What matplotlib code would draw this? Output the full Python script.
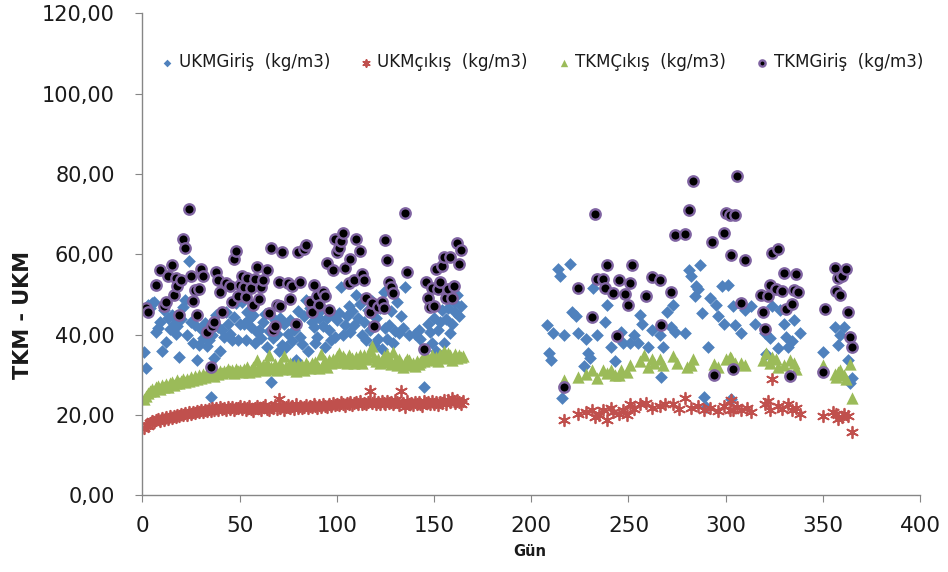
import matplotlib
matplotlib.use('Agg')
import matplotlib.pyplot as plt
from matplotlib.ticker import FuncFormatter

# UKM giriş (kg/m3)
ukm_giris_gun = [
    1, 2, 3, 4, 5, 6, 7, 8, 9, 10, 11, 12, 13, 14, 15, 16, 17, 18, 19, 20,
    21, 22, 23, 24, 25, 26, 27, 28, 29, 30, 31, 32, 33, 34, 35, 36, 37, 38, 39, 40,
    41, 42, 43, 44, 45, 46, 47, 48, 49, 50, 51, 52, 53, 54, 55, 56, 57, 58, 59, 60,
    61, 62, 63, 64, 65, 66, 67, 68, 69, 70, 71, 72, 73, 74, 75, 76, 77, 78, 79, 80,
    81, 82, 83, 84, 85, 86, 87, 88, 89, 90, 91, 92, 93, 94, 95, 96, 97, 98, 99, 100,
    101, 102, 103, 104, 105, 106, 107, 108, 109, 110, 111, 112, 113, 114, 115, 116,
    117, 118, 119, 120, 121, 122, 123, 124, 125, 126, 127, 128, 129, 130, 131, 132,
    133, 134, 135, 137, 140, 142, 143, 145, 147, 148, 149, 150, 151, 152, 153, 154,
    155, 156, 157, 158, 159, 160, 161, 162, 163, 164,
    208, 209, 210, 211, 214, 215, 216, 217, 220, 221, 223, 224, 227, 228, 229, 230,
    232, 234, 238, 239, 241, 243, 246, 247, 251, 253, 255, 256, 257, 260, 262, 266,
    267, 268, 270, 272, 273, 274, 279, 281, 282, 284, 285, 286, 287, 288, 289, 290,
    291, 292, 295, 296, 298, 299, 301, 303, 304, 305, 308, 310, 313, 315, 320, 321,
    323, 324, 327, 328, 330, 331, 332, 334, 335, 338, 350, 356, 358, 359, 361, 363,
    364, 365]
ukm_giris = [
    35.6, 31.7, 47.4, 46.5, 47.9, 48.2, 40.6, 41.5, 43.2, 36.0, 46.1, 38.1, 44.0, 41.4,
    44.8, 42.7, 40.2, 42.0, 34.5, 43.9, 46.9, 48.6, 39.8, 58.2, 43.2, 37.8, 42.3, 33.6,
    37.5, 41.4, 39.1, 42.8, 37.2, 38.6, 24.5, 39.9, 34.2, 44.9, 41.8, 36.0, 41.1, 39.5,
    45.5, 42.7, 40.2, 38.6, 44.4, 47.8, 38.6, 42.5, 48.2, 42.7, 38.6, 45.7, 43.8, 41.9,
    44.9, 37.8, 40.5, 41.1, 39.1, 43.0, 45.2, 37.0, 40.8, 28.1, 39.2, 43.5, 40.2, 35.8,
    44.1, 37.4, 42.7, 36.9, 40.2, 43.6, 38.3, 41.2, 33.6, 45.8, 39.5, 37.6, 44.5, 48.6,
    35.8, 46.6, 43.0, 41.9, 38.0, 39.5, 44.2, 46.1, 42.0, 37.0, 44.0, 41.1, 38.7, 45.0,
    39.5, 43.5, 45.3, 51.9, 39.8, 42.4, 44.7, 47.0, 40.5, 45.8, 42.4, 49.9, 44.0, 47.5,
    39.8, 43.2, 38.6, 46.1, 41.0, 48.3, 37.4, 44.2, 39.0, 46.5, 36.5, 50.7, 41.5, 38.9,
    42.4, 45.8, 37.8, 40.8, 48.0, 40.3, 44.6, 41.5, 51.9, 39.9, 40.2, 41.0, 38.8, 26.9,
    42.7, 40.5, 37.8, 44.0, 35.8, 41.0, 43.2, 46.0, 37.8, 43.8, 46.6, 40.3, 42.5, 48.2,
    45.6, 49.9, 44.5, 47.0,
    42.4, 35.3, 33.6, 40.3, 56.4, 54.5, 24.2, 39.9, 57.6, 45.7, 44.5, 40.3, 32.2, 39.0,
    35.3, 34.2, 51.5, 39.9, 43.2, 47.4, 37.0, 33.4, 40.7, 37.8, 37.8, 39.9, 37.8, 44.9,
    42.7, 37.0, 41.1, 39.9, 29.4, 37.0, 45.7, 41.9, 47.4, 40.7, 40.3, 56.2, 54.5, 49.6,
    52.0, 51.4, 57.4, 45.3, 24.4, 21.9, 37.0, 49.2, 47.4, 44.5, 52.0, 42.7, 52.4, 24.0,
    47.0, 42.4, 40.3, 46.1, 47.0, 42.7, 40.3, 35.2, 39.1, 47.0, 36.6, 46.1, 42.7, 39.5,
    37.0, 38.3, 43.7, 40.3, 35.6, 41.9, 37.4, 39.8, 41.9, 33.7, 27.9, 29.1]

# UKM çıkış (kg/m3)
ukm_cikis_gun = list(range(1, 166)) + [
    217, 224, 228, 231, 233, 235, 237, 239, 241, 242, 245, 247, 249, 251, 253, 256,
    259, 262, 266, 269, 273, 276, 279, 282, 286, 289, 292, 296, 299, 302, 303, 304,
    306, 308, 311, 313, 320, 322, 323, 324, 327, 329, 332, 334, 336, 338, 350, 355,
    357, 358, 360, 361, 363, 365]
ukm_cikis = [
    16.8, 17.5, 17.2, 18.0, 18.4, 18.1, 18.7, 19.0, 18.5, 19.2,
    18.8, 19.4, 19.0, 19.6, 19.2, 19.8, 19.5, 20.0, 19.7, 20.2,
    19.9, 20.4, 20.0, 20.6, 20.3, 20.8, 20.4, 21.0, 20.6, 21.1,
    20.8, 21.3, 20.9, 21.5, 21.0, 21.6, 21.2, 21.8, 21.3, 21.9,
    21.4, 21.7, 21.2, 21.9, 21.5, 22.0, 21.3, 21.8, 21.6, 22.1,
    21.4, 21.9, 21.2, 21.7, 22.2, 21.5, 21.0, 21.8, 22.3, 21.6,
    21.1, 21.9, 22.4, 21.5, 21.2, 22.0, 21.7, 22.5, 21.4, 24.0,
    21.8, 22.2, 21.3, 21.9, 22.4, 21.6, 22.1, 21.4, 22.6, 21.8,
    22.3, 21.7, 22.0, 22.5, 21.6, 22.2, 21.9, 22.7, 22.1, 21.8,
    22.4, 22.0, 22.8, 22.2, 21.9, 22.6, 22.3, 23.0, 22.5, 22.8,
    22.4, 23.1, 22.7, 22.2, 23.0, 22.6, 23.3, 22.5, 22.9, 23.2,
    22.7, 23.4, 22.8, 23.0, 22.6, 23.3, 25.8, 22.9, 23.5, 22.8,
    23.2, 22.6, 23.4, 23.0, 22.7, 23.5, 22.9, 23.3, 22.8, 23.6,
    23.1, 22.5, 25.9, 22.9, 22.0, 23.4, 22.6, 23.0, 22.4, 23.2,
    22.8, 23.3, 22.7, 22.3, 23.5, 22.9, 23.2, 22.6, 23.4, 22.8,
    23.1, 22.5, 23.3, 22.9, 23.6, 22.7, 23.8, 23.2, 24.2, 23.5,
    22.9, 23.6, 23.1, 22.8, 23.4,
    18.7, 20.2, 20.8, 21.1, 19.5, 20.0, 21.2, 18.6, 21.8, 20.6, 20.2, 21.1, 20.0, 22.7,
    21.4, 22.6, 23.0, 21.8, 22.2, 22.6, 22.6, 21.5, 24.3, 21.6, 22.3, 21.2, 21.8, 20.9,
    22.2, 21.3, 23.6, 21.1, 22.0, 21.1, 21.6, 20.8, 22.7, 23.5, 21.1, 28.9, 22.3, 21.5,
    22.7, 21.1, 21.8, 20.2, 19.6, 20.6, 20.2, 18.9, 19.5, 20.1, 19.8, 15.6]

# TKM çıkış (kg/m3)
tkm_cikis_gun = list(range(1, 166)) + [
    217, 224, 228, 231, 234, 237, 239, 241, 243, 245, 246, 249, 251, 256, 258, 260,
    262, 263, 266, 268, 273, 275, 280, 282, 283, 294, 296, 300, 302, 303, 305, 308,
    310, 319, 321, 323, 324, 326, 327, 330, 333, 335, 336, 350, 356, 357, 358, 359,
    361, 362, 364, 365]
tkm_cikis = [
    24.0, 24.6, 25.3, 25.8, 26.4, 26.0, 26.8, 27.1, 26.5, 27.3,
    27.0, 27.6, 26.9, 27.8, 28.2, 27.5, 28.0, 28.6, 27.9, 28.3,
    28.8, 28.1, 29.0, 28.5, 29.3, 28.7, 29.6, 29.0, 29.8, 29.2,
    30.1, 29.5, 30.3, 29.8, 30.6, 30.0, 29.7, 30.8, 30.2, 30.9,
    30.4, 31.0, 30.6, 31.3, 30.8, 31.1, 30.5, 31.4, 30.9, 31.2,
    30.7, 31.5, 30.9, 31.8, 30.6, 31.2, 32.0, 31.0, 33.6, 32.2,
    31.4, 32.5, 31.2, 33.0, 34.8, 32.0, 31.5, 32.6, 31.1, 31.9,
    32.8, 31.3, 34.6, 32.2, 31.6, 32.9, 31.4, 32.3, 31.0, 32.7,
    31.8, 32.5, 31.2, 33.0, 32.1, 31.6, 32.8, 31.9, 33.2, 32.4,
    31.7, 35.2, 32.6, 33.4, 32.0, 33.6, 32.8, 34.0, 33.1, 34.6,
    35.3, 33.2, 34.6, 33.8, 32.9, 34.9, 33.5, 34.1, 32.8, 34.4,
    33.6, 34.8, 33.0, 35.0, 33.9, 34.3, 36.0, 37.2, 34.5, 33.4,
    34.0, 32.9, 33.7, 34.6, 33.1, 35.2, 34.2, 32.6, 35.6, 33.5,
    32.4, 33.8, 32.8, 31.9, 33.2, 33.9, 33.6, 32.5, 33.0, 32.2,
    33.4, 32.6, 33.1, 34.0, 33.3, 35.0, 34.2, 33.6, 34.8, 33.9,
    34.3, 33.5, 35.2, 34.6, 36.0, 34.1, 35.4, 34.8, 33.7, 34.5,
    35.1, 34.2, 34.9, 34.3, 34.7,
    28.7, 29.4, 30.2, 31.1, 29.1, 31.1, 30.5, 31.2, 29.8, 30.0, 31.1, 30.6, 32.3, 33.5,
    35.0, 32.0, 33.8, 33.0, 33.8, 32.5, 34.6, 33.0, 31.9, 32.5, 33.8, 32.7, 31.8, 33.8,
    34.5, 34.1, 33.0, 32.8, 32.3, 33.6, 35.5, 33.0, 34.3, 33.8, 31.9, 32.3, 33.6, 32.8,
    31.5, 32.3, 30.2, 29.5, 30.6, 31.1, 29.8, 28.9, 32.7, 24.3]

# TKM giriş (kg/m3)
tkm_giris_gun = [
    2, 3, 7, 9, 11, 12, 13, 15, 16, 17, 18, 19, 20, 21, 22, 24, 25, 26, 27, 28,
    29, 30, 31, 33, 35, 36, 37, 38, 39, 40, 41, 43, 45, 46, 47, 48, 49, 50, 51, 52,
    53, 54, 56, 57, 58, 59, 60, 61, 62, 64, 65, 66, 67, 68, 69, 70, 71, 72, 75, 76,
    77, 79, 80, 81, 83, 84, 86, 87, 88, 90, 91, 93, 94, 95, 96, 98, 99, 100, 101, 102,
    103, 104, 106, 107, 109, 110, 112, 113, 114, 115, 117, 118, 119, 121, 123, 124,
    125, 126, 127, 128, 129, 135, 136, 145, 146, 147, 148, 149, 150, 151, 152, 153,
    154, 155, 156, 157, 158, 159, 160, 162, 163, 164,
    217, 224, 231, 233, 234, 237, 238, 239, 242, 244, 245, 248, 250, 251, 252, 259,
    262, 266, 267, 272, 274, 279, 281, 283, 293, 294, 299, 300, 302, 303, 304, 305,
    306, 308, 310, 318, 319, 320, 322, 323, 324, 326, 327, 329, 330, 331, 333, 334,
    335, 336, 337, 350, 351, 356, 357, 358, 359, 360, 362, 363, 364, 365]
tkm_giris = [
    46.5, 45.5, 52.4, 56.1, 47.0, 48.2, 54.6, 57.2, 49.9, 54.1, 52.2, 44.9, 53.7, 63.9,
    61.6, 71.4, 54.5, 48.4, 51.0, 44.9, 51.4, 56.4, 54.6, 40.6, 31.9, 42.2, 43.2, 55.5,
    53.7, 50.7, 45.7, 52.8, 52.0, 48.2, 58.8, 60.7, 49.6, 52.4, 54.5, 51.9, 49.3, 54.0,
    51.5, 47.4, 53.9, 56.7, 48.8, 51.9, 53.7, 56.1, 45.3, 61.6, 41.2, 42.2, 47.4, 53.0,
    47.0, 60.5, 52.8, 48.8, 52.0, 42.7, 60.5, 53.2, 61.2, 62.2, 48.2, 45.5, 52.4, 49.5,
    47.4, 50.7, 49.6, 57.8, 46.1, 56.2, 63.7, 60.5, 61.6, 63.2, 65.3, 56.5, 52.8, 58.8,
    53.7, 63.8, 60.8, 55.1, 53.7, 49.2, 45.5, 47.8, 42.2, 46.8, 48.2, 46.6, 63.5, 58.5,
    53.2, 51.8, 50.3, 70.3, 55.5, 36.4, 53.0, 49.0, 46.8, 51.5, 47.0, 56.3, 51.3, 53.0,
    57.0, 59.3, 49.1, 51.4, 59.3, 49.2, 52.0, 62.8, 57.6, 61.0,
    27.0, 51.5, 44.4, 70.1, 53.8, 53.8, 51.5, 57.4, 50.4, 39.7, 53.6, 50.1, 47.4, 52.8,
    57.2, 49.7, 54.3, 53.7, 42.4, 50.7, 64.7, 65.1, 71.0, 78.3, 63.0, 29.8, 65.3, 70.3,
    69.8, 59.9, 31.3, 69.9, 79.5, 47.8, 58.5, 49.9, 45.5, 41.3, 49.7, 52.4, 60.2, 51.3,
    61.3, 50.9, 55.3, 46.3, 29.6, 47.6, 51.2, 55.1, 50.5, 30.6, 46.3, 56.6, 50.9, 54.1,
    49.8, 54.5, 56.3, 45.7, 39.4, 36.8]

y_ticks = [0, 20, 40, 60, 80, 100, 120]
x_ticks = [0, 50, 100, 150, 200, 250, 300, 350, 400]

AXIS_GREY = '#868686'
TEXT = '#1a1a1a'

fig = plt.figure(figsize=(9.48, 5.72), dpi=100)
ax = fig.add_axes([0.1503, 0.1346, 0.8202, 0.8418])

ax.scatter(ukm_giris_gun, ukm_giris, marker='D', s=42, color='#4F81BD',
           linewidths=0, label='UKMGiriş  (kg/m3)')
ax.scatter(ukm_cikis_gun, ukm_cikis, marker=(6, 2, 0), s=68, color='#C0504D',
           linewidths=1.3, label='UKMçıkış  (kg/m3)')
ax.scatter(tkm_cikis_gun, tkm_cikis, marker='^', s=78, color='#9BBB59',
           linewidths=0, label='TKMÇıkış  (kg/m3)')
ax.scatter(tkm_giris_gun, tkm_giris, marker='o', s=56, facecolor='black',
           edgecolor='#8064A2', linewidths=1.7, label='TKMGiriş  (kg/m3)')

ax.set_xlim(0, 400)
ax.set_ylim(0, 120)
ax.set_xticks(x_ticks)
ax.set_yticks(y_ticks)
ax.yaxis.set_major_formatter(FuncFormatter(lambda v, p: f'{v:.2f}'.replace('.', ',')))

for side in ('top', 'right'):
    ax.spines[side].set_visible(False)
for side in ('left', 'bottom'):
    ax.spines[side].set_color(AXIS_GREY)
    ax.spines[side].set_linewidth(1.0)

ax.tick_params(axis='both', direction='out', length=5, color=AXIS_GREY,
               labelcolor=TEXT)
ax.tick_params(axis='y', pad=15)
ax.tick_params(axis='x', pad=10)
for lbl in ax.get_yticklabels():
    lbl.set_fontfamily('DejaVu Sans')
    lbl.set_fontsize(15)
for lbl in ax.get_xticklabels():
    lbl.set_fontfamily('DejaVu Sans')
    lbl.set_fontsize(15.5)

leg = ax.legend(loc='center', bbox_to_anchor=(0.514, 0.899), ncol=4, frameon=False,
                handlelength=0.7, handletextpad=0.35, columnspacing=1.8,
                markerscale=0.6, prop={'family': 'DejaVu Sans', 'size': 12})
for t in leg.get_texts():
    t.set_color(TEXT)

fig.text(0.024, 0.45, 'TKM - UKM', rotation=90, ha='center', va='center',
         fontsize=15, fontweight='bold', color=TEXT)
fig.text(0.559, 0.035, 'Gün', ha='center', va='center',
         fontsize=10.5, fontweight='bold', color=TEXT)

fig.savefig('out.png', dpi=100)
